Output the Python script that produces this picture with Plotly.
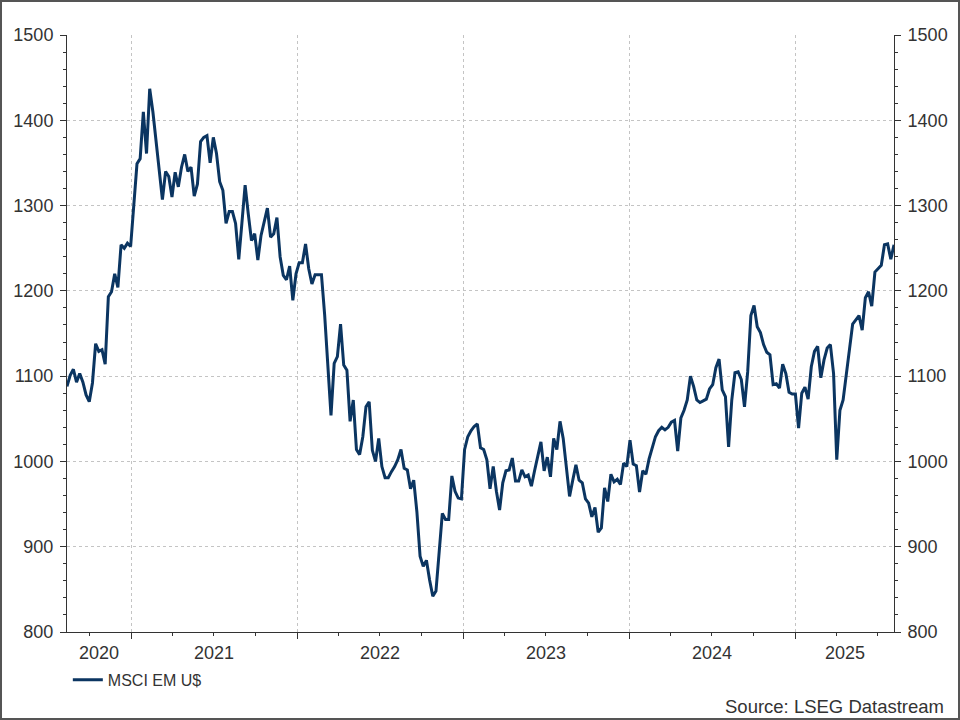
import pandas as pd
import plotly.graph_objects as go

# Weekly MSCI EM (US$) index levels
values_2020 = [1088, 1101, 1108, 1093, 1103, 1093, 1078, 1070, 1092, 1138, 1129,
               1131, 1114, 1193, 1199, 1220, 1204, 1254, 1250, 1256, 1252]
values_2021 = [1298, 1349, 1355, 1410, 1361, 1437, 1410, 1373, 1340, 1307, 1340, 1334,
               1310, 1339, 1322, 1345, 1360, 1340, 1345, 1311, 1325, 1375, 1380, 1382,
               1350, 1380, 1361, 1328, 1318, 1279, 1293, 1293, 1279, 1237, 1280, 1324,
               1290, 1259, 1267, 1236, 1265, 1280, 1297, 1263, 1267, 1286, 1240, 1218,
               1213, 1229, 1189, 1220]
values_2022 = [1233, 1233, 1255, 1226, 1208, 1219, 1219, 1219, 1172, 1119, 1054, 1115,
               1123, 1161, 1113, 1107, 1047, 1072, 1014, 1008, 1029, 1064, 1070, 1013,
               1000, 1027, 994, 981, 981, 988, 994, 1002, 1014, 992, 990, 968,
               978, 941, 889, 877, 884, 861, 842, 848, 893, 939, 932, 932,
               983, 965, 957, 956]
values_2023 = [1014, 1029, 1036, 1041, 1044, 1016, 1014, 1002, 968, 994, 965, 943,
               975, 989, 990, 1004, 977, 977, 990, 982, 984, 971, 989, 1005,
               1023, 989, 1005, 982, 1027, 1014, 1047, 1027, 994, 959, 978, 996,
               978, 975, 956, 951, 935, 946, 917, 922, 969, 953, 985, 976,
               979, 973, 998, 994]
values_2024 = [1025, 997, 995, 964, 989, 985, 1003, 1017, 1029, 1036, 1040, 1037,
               1040, 1046, 1048, 1012, 1051, 1060, 1072, 1100, 1088, 1072, 1069, 1071,
               1073, 1085, 1090, 1110, 1120, 1084, 1076, 1017, 1072, 1104, 1105, 1096,
               1064, 1105, 1171, 1183, 1158, 1151, 1137, 1128, 1125, 1090, 1091, 1086,
               1114, 1103, 1081, 1079]
values_2025 = [1079, 1039, 1080, 1087, 1073, 1111, 1129, 1135, 1098, 1119, 1133, 1137,
               1103, 1002, 1060, 1072, 1103, 1135, 1161, 1166, 1171, 1154, 1192, 1199,
               1182, 1222, 1226, 1230, 1254, 1255, 1237, 1254]

values = values_2020 + values_2021 + values_2022 + values_2023 + values_2024 + values_2025
first_date = "2020-08-12"
dates = pd.date_range(first_date, periods=len(values), freq="7D")

series_name = "MSCI EM U$"
source_text = "Source: LSEG Datastream"
year_labels = ["2020", "2021", "2022", "2023", "2024", "2025"]
year_label_dates = ["2020-10-22", "2021-07-02", "2022-07-02", "2023-07-02",
                    "2024-07-02", "2025-04-20"]
y_range = [800, 1500]

LINE = "#0b3561"
TXT = "#333333"
GRID = "#c4c4c4"
FONT = "Liberation Sans, Arial, sans-serif"

fig = go.Figure()
fig.add_trace(go.Scatter(x=dates, y=values, mode="lines", name=series_name,
                         line=dict(color=LINE, width=3), hoverinfo="x+y"))
# invisible copy so the right-hand axis is drawn
fig.add_trace(go.Scatter(x=dates, y=values, mode="lines", yaxis="y2",
                         line=dict(color="rgba(0,0,0,0)", width=0),
                         showlegend=False, hoverinfo="skip"))

axis_common = dict(
    range=y_range, dtick=100, tick0=800, showline=True, linecolor=TXT, linewidth=1,
    ticks="outside", ticklen=6, tickcolor=TXT, tickwidth=1, ticklabelstandoff=3,
    tickfont=dict(size=18, color=TXT, family=FONT),
    minor=dict(dtick=20, tick0=800, ticks="outside", ticklen=3, tickcolor=TXT, showgrid=False),
    zeroline=False, fixedrange=True,
)

fig.update_layout(
    width=960, height=720,
    margin=dict(l=67, r=66, t=35, b=88),
    paper_bgcolor="white", plot_bgcolor="white",
    font=dict(family=FONT, color=TXT),
    xaxis=dict(
        type="date", range=[dates[0], dates[-1]],
        tickmode="linear", tick0="2021-01-01", dtick="M12",
        showticklabels=False,
        showline=True, linecolor=TXT, linewidth=1,
        ticks="outside", ticklen=6, tickcolor=TXT,
        showgrid=True, gridcolor=GRID, griddash="dot", gridwidth=1,
        minor=dict(dtick="M3", tick0="2020-01-01", ticks="outside", ticklen=3,
                   tickcolor=TXT, showgrid=False),
        zeroline=False,
    ),
    yaxis=dict(side="left", showgrid=True, gridcolor=GRID, griddash="dot", gridwidth=1,
               **axis_common),
    yaxis2=dict(side="right", overlaying="y", showgrid=False, **axis_common),
    showlegend=True,
    legend=dict(x=0.001, y=-0.08, xanchor="left", yanchor="middle",
                orientation="h", font=dict(size=16, color=TXT, family=FONT),
                bgcolor="rgba(0,0,0,0)", itemwidth=30),
)

for lab, d in zip(year_labels, year_label_dates):
    fig.add_annotation(x=d, y=-0.035, xref="x", yref="paper", text=lab, showarrow=False,
                       xanchor="center", yanchor="middle",
                       font=dict(size=18, color=TXT, family=FONT))

fig.add_annotation(x=1.0629, y=-0.124, xref="paper", yref="paper", text=source_text,
                   showarrow=False, xanchor="right", yanchor="middle",
                   font=dict(size=18.5, color=TXT, family=FONT))

# outer frame around the whole image
fig.add_shape(type="rect", xref="paper", yref="paper",
              x0=-0.0798, x1=1.0786, y0=-0.1457, y1=1.0570,
              line=dict(color="#555555", width=2), layer="above")

fig.write_html("out.html")
